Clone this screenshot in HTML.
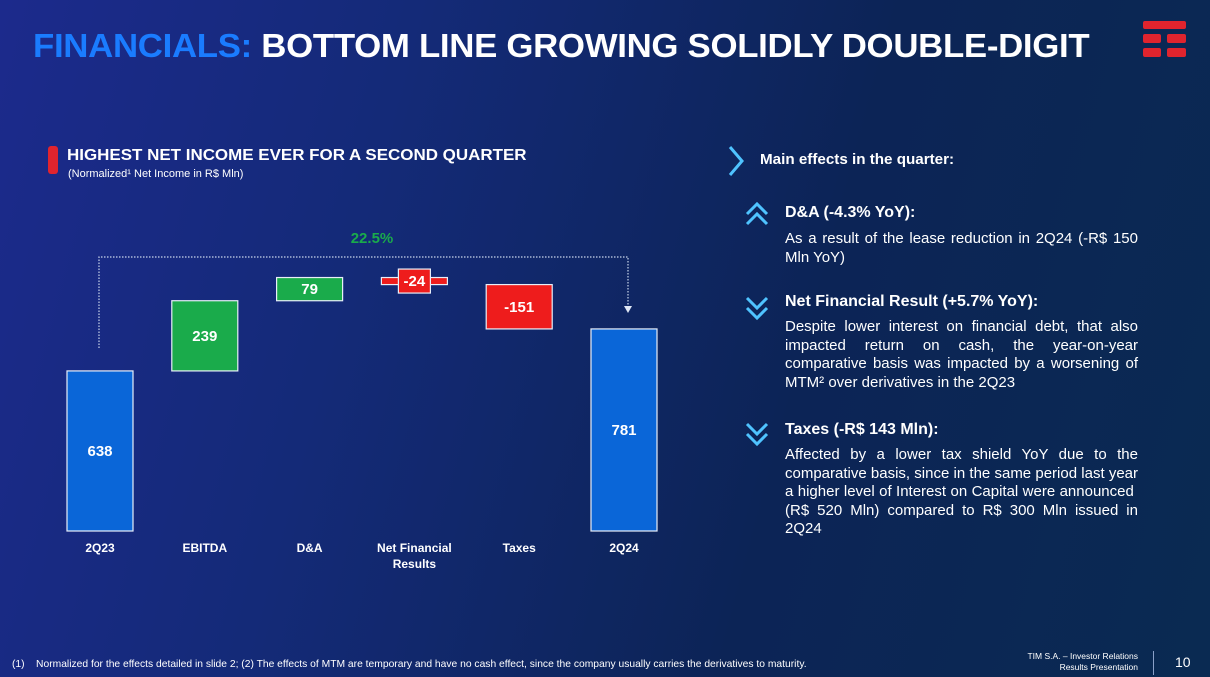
<!DOCTYPE html>
<html><head><meta charset="utf-8"><style>
*{margin:0;padding:0;box-sizing:border-box}
body{width:1210px;height:677px;overflow:hidden;font-family:"Liberation Sans",sans-serif;color:#fff;
background:linear-gradient(105deg,#1c2a8c 0%,#142a78 30%,#0c2456 65%,#0a2a52 100%);position:relative}
.abs{position:absolute}
#title{left:33px;top:27px;font-size:33px;font-weight:bold;white-space:nowrap;transform:scaleX(1.055);transform-origin:left top;letter-spacing:-0.3px}
#title .b{color:#1a7cff}
.logo div{position:absolute;background:#e0242e;border-radius:2px}
.sub-title{left:67px;top:147px;font-size:16px;font-weight:bold;transform:scaleX(1.06);transform-origin:left top;white-space:nowrap}
.sub-note{left:68px;top:168px;font-size:11px;white-space:nowrap}
.rt{left:785px;width:353px;font-size:15px;line-height:18.5px;text-align:justify}
.rh{left:785px;font-size:16px;font-weight:bold;white-space:nowrap}
.foot{font-size:9px;white-space:nowrap}
</style></head><body>
<div id="title" class="abs"><span class="b">FINANCIALS:</span> BOTTOM LINE GROWING SOLIDLY DOUBLE-DIGIT</div>
<div class="abs logo" style="left:1143px;top:21px;width:43px;height:36px">
<div style="left:0;top:0;width:43px;height:8px"></div>
<div style="left:0;top:13px;width:18px;height:9px"></div><div style="left:24px;top:13px;width:19px;height:9px"></div>
<div style="left:0;top:27px;width:18px;height:9px"></div><div style="left:24px;top:27px;width:19px;height:9px"></div>
</div>
<div class="abs" style="left:48px;top:146px;width:10px;height:28px;background:#e0242e;border-radius:3px"></div>
<div class="abs sub-title">HIGHEST NET INCOME EVER FOR A SECOND QUARTER</div>
<div class="abs sub-note">(Normalized¹ Net Income in R$ Mln)</div>

<svg class="abs" style="left:0;top:0" width="1210" height="677" id="chart"></svg>

<svg class="abs" style="left:722px;top:144px" width="28" height="34"><path d="M8 3 L20 17 L8 31" fill="none" stroke="#4fc3ff" stroke-width="3"/></svg>
<div class="abs rh" style="left:760px;top:151px;font-size:15.2px">Main effects in the quarter:</div>

<svg class="abs" style="left:743px;top:200px" width="28" height="30"><path d="M4 14 L14 4 L24 14 M4 24 L14 14 L24 24" fill="none" stroke="#4fc3ff" stroke-width="3"/></svg>
<div class="abs rh" style="top:204px">D&amp;A (-4.3% YoY):</div>
<div class="abs rt" style="top:230px">As a result of the lease reduction in 2Q24 (-R$ 150 Mln YoY)</div>

<svg class="abs" style="left:743px;top:292px" width="28" height="30"><path d="M4 6 L14 16 L24 6 M4 16 L14 26 L24 16" fill="none" stroke="#4fc3ff" stroke-width="3"/></svg>
<div class="abs rh" style="top:293px">Net Financial Result (+5.7% YoY):</div>
<div class="abs rt" style="top:318px">Despite lower interest on financial debt, that also impacted return on cash, the year-on-year comparative basis was impacted by a worsening of MTM² over derivatives in the 2Q23</div>

<svg class="abs" style="left:743px;top:418px" width="28" height="30"><path d="M4 6 L14 16 L24 6 M4 16 L14 26 L24 16" fill="none" stroke="#4fc3ff" stroke-width="3"/></svg>
<div class="abs rh" style="top:421px">Taxes (-R$ 143 Mln):</div>
<div class="abs rt" style="top:446px">Affected by a lower tax shield YoY due to the comparative basis, since in the same period last year a higher level of Interest on Capital were announced&nbsp; (R$ 520 Mln) compared to R$ 300 Mln issued in 2Q24</div>

<div class="abs foot" style="left:12px;top:659px;font-size:10.3px">(1)&nbsp;&nbsp;&nbsp; Normalized for the effects detailed in slide 2; (2) The effects of MTM are temporary and have no cash effect, since the company usually carries the derivatives to maturity.</div>
<div class="abs foot" style="left:980px;top:651px;width:158px;text-align:right;font-size:8.5px;line-height:11px">TIM S.A. – Investor Relations<br>Results Presentation</div>
<div class="abs" style="left:1153px;top:651px;width:1px;height:24px;background:#8aa0c8"></div>
<div class="abs" style="left:1175px;top:654px;font-size:14px">10</div>

<script>
const categories=["2Q23","EBITDA","D&A","Net Financial|Results","Taxes","2Q24"];
const deltas=[638,239,79,-24,-151,781];
const kinds=["total","delta","delta","delta","delta","total"];
const growthLabel="22.5%";
const svg=document.getElementById('chart');
const NS="http://www.w3.org/2000/svg";
const vMin=93, yBase=531, k=42/143;
function y(v){return yBase-(v-vMin)*k;}
function xc(i){return 100+i*104.8;}
const bw=66;
function mk(t,a){const e=document.createElementNS(NS,t);for(const q in a)e.setAttribute(q,a[q]);svg.appendChild(e);return e;}
let run=0;
deltas.forEach((d,i)=>{
  let a,b,fill;
  if(kinds[i]==="total"){a=vMin;b=d;run=d;fill="#0a66d8";}
  else{a=run;b=run+d;run=b;fill=d>=0?"#1aab4b":"#ee1c1c";}
  const top=y(Math.max(a,b)),bot=y(Math.min(a,b));
  const r=mk('rect',{x:xc(i)-bw/2,y:top,width:bw,height:bot-top,fill:fill,stroke:"#e8eef8","stroke-width":1.2});
  
  
  let ly=(top+bot)/2+5;
  if(bot-top<18){
    const lb=mk('rect',{x:xc(i)-16,y:(top+bot)/2-12,width:32,height:24,fill:fill,stroke:"#e8eef8","stroke-width":1.2});
    
    
  }
  const t=mk('text',{x:xc(i),y:ly,"text-anchor":"middle","font-size":15,"font-weight":"bold",fill:"#fff","font-family":"Liberation Sans"});
  t.textContent=String(d);
  
  
  const parts=categories[i].split('|');
  parts.forEach((p,j)=>{
    const c=mk('text',{x:xc(i),y:552+j*16,"text-anchor":"middle","font-size":12,"font-weight":"bold",fill:"#fff","font-family":"Liberation Sans"});
    c.textContent=p;
    
    
  });
});
const x0=xc(0)-1,x1=xc(5)+4,yl=257;
const pth=mk('path',{d:`M${x0} 348 L${x0} ${yl} L${x1} ${yl} L${x1} 308`,fill:"none",stroke:"#c8d4ea","stroke-width":1.2,"stroke-dasharray":"1.5 1.5"});


const ar=mk('path',{d:`M${x1-4} 306 L${x1+4} 306 L${x1} 313 Z`,fill:"#e0e8f5"});


const g=mk('text',{x:372,y:243,"text-anchor":"middle","font-size":15,"font-weight":"bold",fill:"#1aab4b","font-family":"Liberation Sans"});
g.textContent=growthLabel;


</script>
</body></html>
